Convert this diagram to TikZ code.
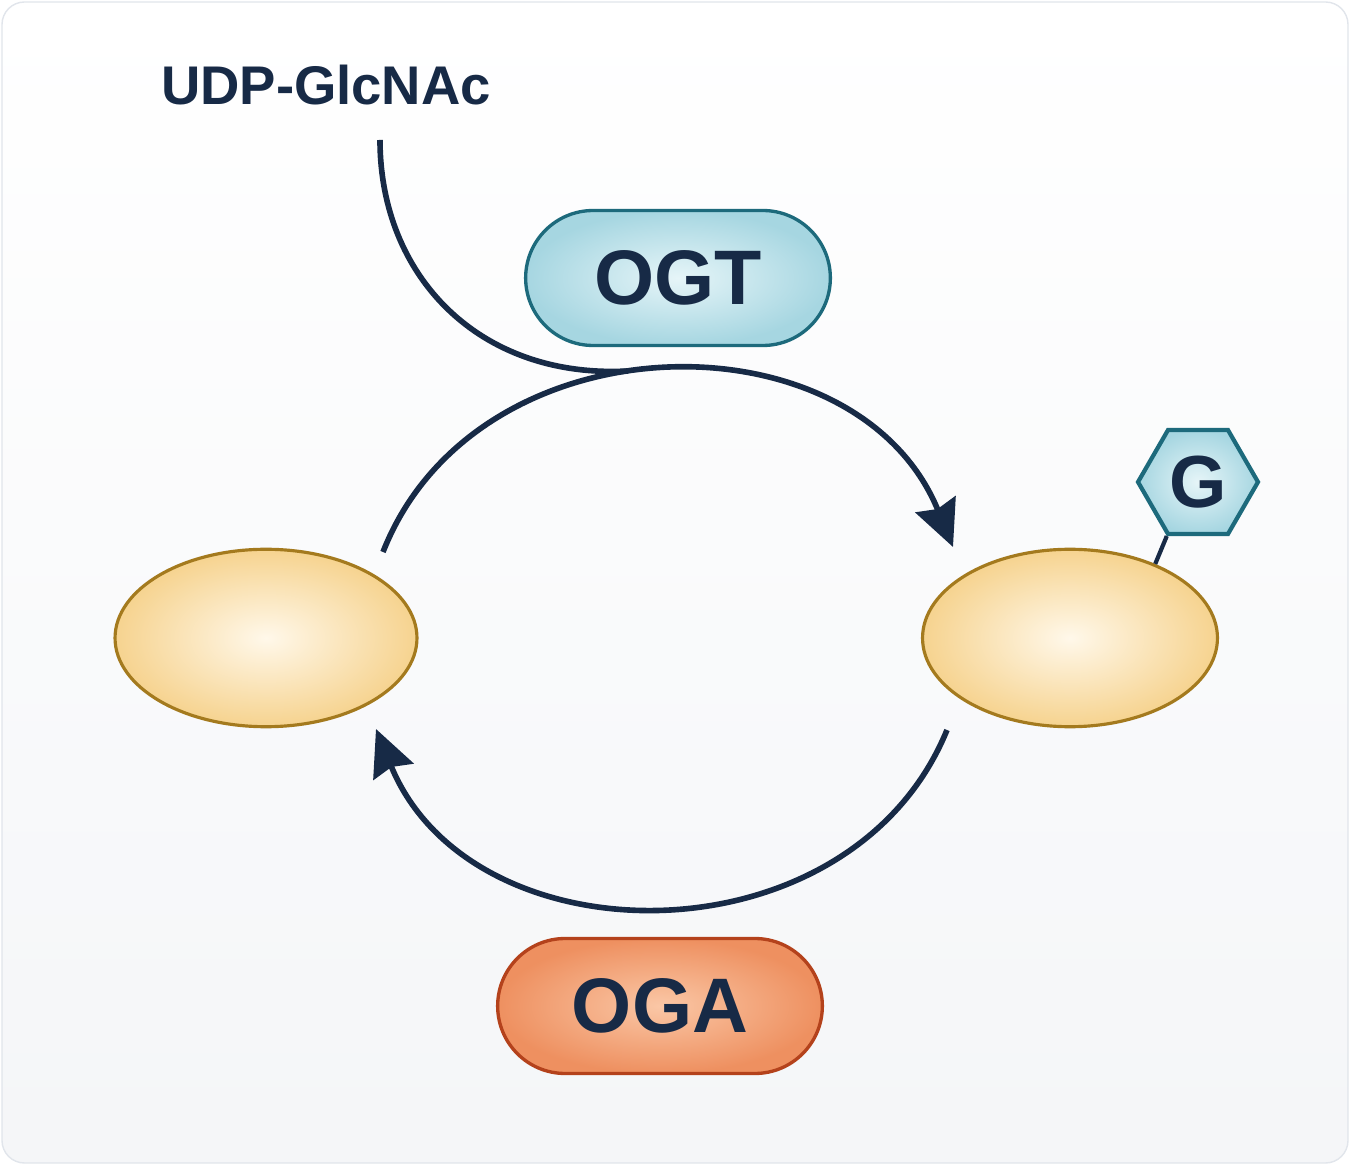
\documentclass[tikz,border=0pt]{standalone}
\usepackage{fontspec}
\setmainfont{Liberation Sans}
\usetikzlibrary{shapes,arrows.meta,positioning,calc}

\definecolor{ink}{HTML}{172A46}
\definecolor{frame}{HTML}{E1E5EB}
\definecolor{goldline}{HTML}{A47A1E}
\definecolor{goldin}{HTML}{FFF8EA}
\definecolor{goldout}{HTML}{F6D38F}
\definecolor{tealline}{HTML}{1D6A7C}
\definecolor{tealin}{HTML}{E6F5F8}
\definecolor{tealout}{HTML}{A6D6E1}
\definecolor{rustline}{HTML}{B4421C}
\definecolor{rustin}{HTML}{FAC7A6}
\definecolor{rustout}{HTML}{EE9060}

\tikzset{
  substrate/.style={ellipse, draw=goldline, line width=1.8pt, inner color=goldin, outer color=goldout, minimum height=3.55cm},
  enzyme/.style={rounded rectangle, line width=1.9pt, minimum height=2.7cm, text=ink, font=\fontsize{44}{50}\selectfont\bfseries},
  sugar/.style={regular polygon, regular polygon sides=6, draw=tealline, line width=2.4pt, inner color=tealin, outer color=tealout, minimum size=2.4cm, inner sep=0pt, text=ink, font=\fontsize{42}{48}\selectfont\bfseries},
  turnover/.style={draw=ink, line width=3.2pt, -{Stealth[length=0.92cm,width=0.86cm,inset=0.1cm]}},
}

\begin{document}
\begin{tikzpicture}[x=0.02cm,y=-0.02cm]
\useasboundingbox (0,0) rectangle (1350,1165);
\draw[draw=frame, line width=0.8pt, top color=white, bottom color=frame!35, rounded corners=0.45cm] (2,2) rectangle (1348,1163);

% the two forms of the protein
\node[substrate, minimum width=6.04cm] (lp) at (266,638) {};
\node[substrate, minimum width=5.9cm] (rp) at (1070,638) {};

% enzymes and donor
\node[enzyme, draw=tealline, inner color=tealin, outer color=tealout, minimum width=6.33cm] (ogt) at (678,278) {OGT};
\node[enzyme, draw=rustline, inner color=rustin, outer color=rustout, minimum width=6.73cm] (oga) at (660,1006) {OGA};
\node[text=ink, font=\fontsize{31}{36}\selectfont\bfseries] (udp) at (326,85) {UDP-GlcNAc};

% sugar on the right protein
\node[sugar] (glc) at (1198,482) {G};
\draw[ink, line width=2.4pt] (glc.240) -- (rp.41);

% cycle
\coordinate (t1) at (383,552);
\coordinate (t2) at (953,547);
\coordinate (b1) at (947,730);
\coordinate (b2) at (376,729);
\coordinate (u0) at (380,140);
\coordinate (u1) at (628,371);
\draw[turnover] (t1) .. controls +(93,-237) and +(-97,-237) .. (t2);
\draw[turnover] (b1) .. controls +(-96,235) and +(96,235) .. (b2);
\draw[draw=ink, line width=3.2pt] (u0) .. controls +(0,135) and +(-150,8) .. (u1);
\end{tikzpicture}
\end{document}
